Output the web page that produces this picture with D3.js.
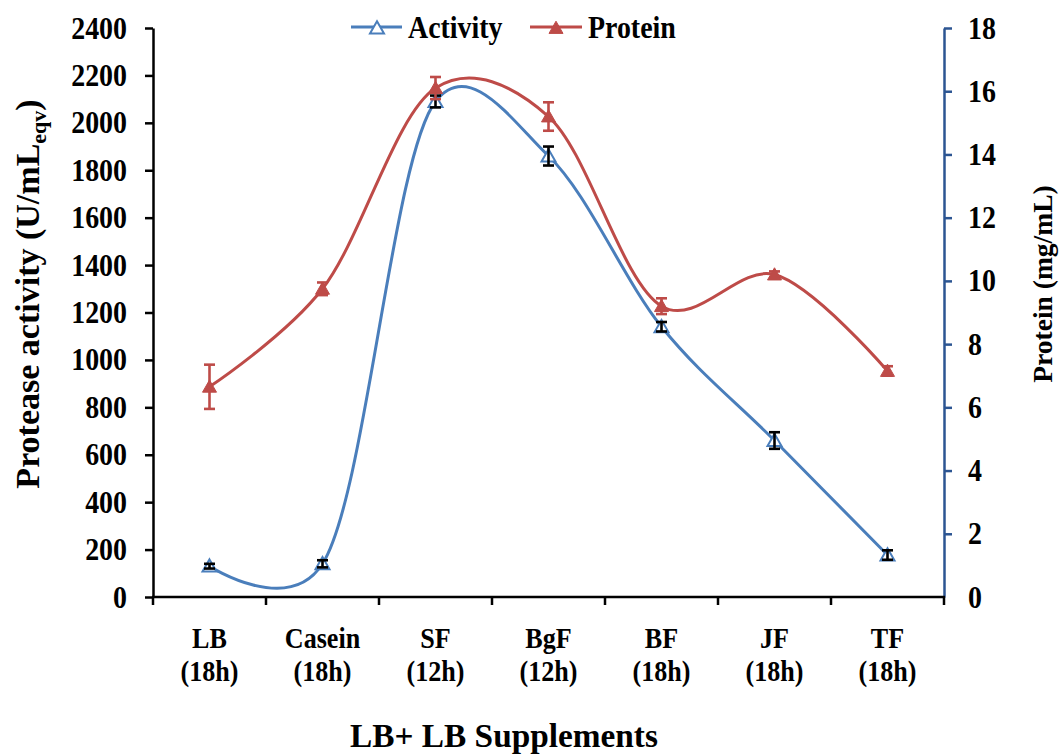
<!DOCTYPE html>
<html>
<head>
<meta charset="utf-8">
<script src="https://cdn.jsdelivr.net/npm/d3@7"></script>
<style>
  html, body { margin: 0; padding: 0; background: #fff; }
  svg { display: block; }
  text { font-family: "Liberation Serif", "Times New Roman", serif; font-weight: bold; fill: #000; }
</style>
</head>
<body>
<svg id="chart" width="1059" height="754"></svg>
<script>
// Media supplements and incubation times
const categories = ["LB", "Casein", "SF", "BgF", "BF", "JF", "TF"];
const hours = ["(18h)", "(18h)", "(12h)", "(12h)", "(18h)", "(18h)", "(18h)"];

// Protease activity (U/mL eqv) with standard deviations
const activity = [130, 140, 2090, 1860, 1140, 660, 177];
const activityErr = [10, 15, 25, 40, 20, 35, 20];

// Protein content (mg/mL) with standard deviations
const protein = [6.65, 9.75, 16.1, 15.2, 9.2, 10.2, 7.15];
const proteinErr = [0.7, 0.2, 0.35, 0.45, 0.25, 0.1, 0.15];

const activityTicks = [0, 200, 400, 600, 800, 1000, 1200, 1400, 1600, 1800, 2000, 2200, 2400];
const proteinTicks = [0, 2, 4, 6, 8, 10, 12, 14, 16, 18];

const BLUE = "#4A7EBB", RED = "#BE4B48", AXIS_BLUE = "#2C5592";

const svg = d3.select("#chart");
const plotL = 153, plotR = 944, plotT = 28, plotB = 597;

const x = d3.scaleBand().domain(categories).range([plotL, plotR]);
const yL = d3.scaleLinear().domain([0, 2400]).range([plotB, plotT]);
const yR = d3.scaleLinear().domain([0, 18]).range([plotB, plotT]);
const cx = d => x(d) + x.bandwidth() / 2;

// text drawn with horizontal condensing
function label(g, str, tx, ty, size, sx, anchor) {
  return g.append("text")
    .attr("transform", `translate(${tx},${ty}) scale(${sx},1)`)
    .attr("text-anchor", anchor)
    .style("font-size", size + "px")
    .text(str);
}

// axes
const axL = svg.append("g").attr("transform", `translate(${plotL},0)`)
  .call(d3.axisLeft(yL).tickValues(activityTicks).tickSize(8).tickSizeOuter(0).tickFormat(""));
axL.selectAll("path, line").attr("stroke", "#000").attr("stroke-width", 2.5);

const axR = svg.append("g").attr("transform", `translate(${plotR},0)`)
  .call(d3.axisRight(yR).tickValues(proteinTicks.filter(v => v > 0)).tickSize(8).tickSizeOuter(0).tickFormat(""));
axR.selectAll("path, line").attr("stroke", AXIS_BLUE).attr("stroke-width", 2.5);

const xBounds = d3.range(categories.length + 1).map(i => plotL + i * x.step());
const axB = svg.append("g");
axB.append("line").attr("x1", plotL - 1).attr("x2", plotR + 1).attr("y1", plotB).attr("y2", plotB)
  .attr("stroke", "#000").attr("stroke-width", 2.5);
axB.selectAll("line.tick").data(xBounds).join("line").attr("class", "tick")
  .attr("x1", d => d).attr("x2", d => d).attr("y1", plotB).attr("y2", plotB + 8)
  .attr("stroke", "#000").attr("stroke-width", 2.5);

// tick labels
const tl = svg.append("g");
activityTicks.forEach(v => label(tl, String(v), 127, yL(v) + 10.5, 31, 0.9, "end"));
proteinTicks.forEach(v => label(tl, String(v), 968, yR(v) + 10.5, 31, 0.9, "start"));
categories.forEach((c, i) => {
  label(tl, c, cx(c), 648, 29, 0.9, "middle");
  label(tl, hours[i], cx(c), 681, 29, 0.9, "middle");
});

// axis titles
label(svg, "LB+ LB Supplements", 504, 747, 34, 0.98, "middle");

const tL = svg.append("text")
  .attr("transform", "translate(39,294) rotate(-90)")
  .attr("text-anchor", "middle")
  .style("font-size", "34px");
tL.append("tspan").text("Protease activity (U/mL");
tL.append("tspan").attr("dy", 7).style("font-size", "22px").text("eqv");
tL.append("tspan").attr("dy", -7).text(")");

svg.append("text")
  .attr("transform", "translate(1052,284) rotate(-90)")
  .attr("text-anchor", "middle")
  .style("font-size", "27.5px")
  .text("Protein (mg/mL)");

// smoothed series lines
const curve = d3.curveCatmullRom.alpha(0.17);
const lineA = d3.line().x((d, i) => cx(categories[i])).y(d => yL(d)).curve(curve);
const lineP = d3.line().x((d, i) => cx(categories[i])).y(d => yR(d)).curve(curve);

const tri = "M0,-6.8L7,5.4L-7,5.4Z";

function errorBars(g, vals, errs, scale, color) {
  const eg = g.append("g").attr("stroke", color).attr("stroke-width", 2.6).attr("fill", "none");
  vals.forEach((v, i) => {
    const px = cx(categories[i]);
    const y1 = scale(v + errs[i]), y2 = scale(v - errs[i]);
    eg.append("line").attr("x1", px).attr("x2", px).attr("y1", y1).attr("y2", y2);
    eg.append("line").attr("x1", px - 5.5).attr("x2", px + 5.5).attr("y1", y1).attr("y2", y1);
    eg.append("line").attr("x1", px - 5.5).attr("x2", px + 5.5).attr("y1", y2).attr("y2", y2);
  });
}

// Activity series
const gA = svg.append("g");
gA.append("path").datum(activity).attr("d", lineA)
  .attr("fill", "none").attr("stroke", BLUE).attr("stroke-width", 3);
gA.selectAll("path.m").data(activity).join("path").attr("class", "m")
  .attr("d", tri)
  .attr("transform", (d, i) => `translate(${cx(categories[i])},${yL(d)})`)
  .attr("fill", "#fff").attr("stroke", BLUE).attr("stroke-width", 2);
errorBars(gA, activity, activityErr, yL, "#000");

// Protein series
const gP = svg.append("g");
gP.append("path").datum(protein).attr("d", lineP)
  .attr("fill", "none").attr("stroke", RED).attr("stroke-width", 3);
errorBars(gP, protein, proteinErr, yR, RED);
gP.selectAll("path.m").data(protein).join("path").attr("class", "m")
  .attr("d", tri)
  .attr("transform", (d, i) => `translate(${cx(categories[i])},${yR(d)})`)
  .attr("fill", RED).attr("stroke", RED).attr("stroke-width", 1);

// legend
const lg = svg.append("g");
const legendItems = [
  { name: "Activity", color: BLUE, fill: "#fff", x0: 351, x1: 402, mx: 377, tx: 408 },
  { name: "Protein", color: RED, fill: RED, x0: 530, x1: 582, mx: 556, tx: 588 }
];
legendItems.forEach(it => {
  lg.append("line").attr("x1", it.x0).attr("x2", it.x1).attr("y1", 27).attr("y2", 27)
    .attr("stroke", it.color).attr("stroke-width", 3);
  lg.append("path").attr("d", tri).attr("transform", `translate(${it.mx},28)`)
    .attr("fill", it.fill).attr("stroke", it.color).attr("stroke-width", it.fill === "#fff" ? 2 : 1);
  label(lg, it.name, it.tx, 38, 31, 0.9, "start");
});
</script>
</body>
</html>
